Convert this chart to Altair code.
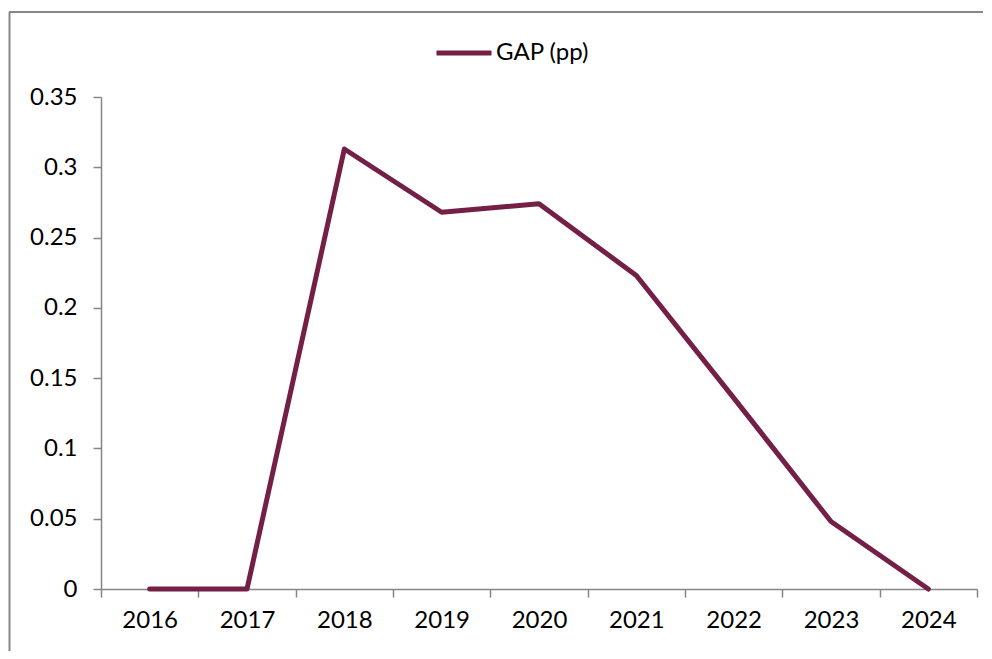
import altair as alt
import pandas as pd

years = ["2016", "2017", "2018", "2019", "2020", "2021", "2022", "2023", "2024"]
gap = [0.0, 0.0, 0.313, 0.268, 0.274, 0.223, 0.136, 0.048, 0.0]
series_name = "GAP (pp)"
y_ticks = [0, 0.05, 0.1, 0.15, 0.2, 0.25, 0.3, 0.35]

LINE_COLOR = "#731F46"
AXIS_COLOR = "#868686"
FONT = "Lato"

df = pd.DataFrame({"year": years, "gap": gap, "series": [series_name] * len(years)})

line = alt.Chart(df).mark_line(strokeWidth=5, strokeCap="round", strokeJoin="round").encode(
    x=alt.X(
        "year:O",
        sort=years,
        scale=alt.Scale(type="band", paddingInner=0, paddingOuter=0),
        axis=alt.Axis(
            title=None, labelAngle=0, tickBand="extent", tickSize=8, labelPadding=11,
            domainColor=AXIS_COLOR, tickColor=AXIS_COLOR, domainWidth=1.5, tickWidth=1.5,
            labelFont=FONT, labelFontSize=24, labelColor="#000000", grid=False,
        ),
    ),
    y=alt.Y(
        "gap:Q",
        scale=alt.Scale(domain=[0, 0.35], nice=False, zero=True),
        axis=alt.Axis(
            title=None, values=y_ticks, format="~g", tickSize=8, labelPadding=16,
            domainColor=AXIS_COLOR, tickColor=AXIS_COLOR, domainWidth=1.5, tickWidth=1.5,
            labelFont=FONT, labelFontSize=24, labelColor="#000000", grid=False,
        ),
    ),
    color=alt.Color(
        "series:N",
        scale=alt.Scale(range=[LINE_COLOR]),
        legend=alt.Legend(
            title=None, orient="none", legendX=333, legendY=-74,
            symbolType="stroke", symbolSize=3025, symbolStrokeWidth=5,
            labelFont=FONT, labelFontSize=24, labelColor="#000000", labelOffset=2,
        ),
    ),
)

frame_df = pd.DataFrame({"k": [0]})
top_rule = alt.Chart(frame_df).mark_rule(color=AXIS_COLOR, strokeWidth=2).encode(
    x=alt.value(-92), x2=alt.value(882), y=alt.value(-85)
)
left_rule = alt.Chart(frame_df).mark_rule(color=AXIS_COLOR, strokeWidth=2).encode(
    x=alt.value(-91.5), y=alt.value(-85), y2=alt.value(560)
)

chart = alt.layer(top_rule, left_rule, line).properties(
    width=876, height=492,
    autosize=alt.AutoSizeParams(type="none"),
    padding={"left": 93, "top": 89, "right": 7, "bottom": 62},
).configure(background="#ffffff").configure_view(stroke=None, strokeWidth=0)

chart.save("out.html", embed_options={"renderer": "svg", "actions": False})
